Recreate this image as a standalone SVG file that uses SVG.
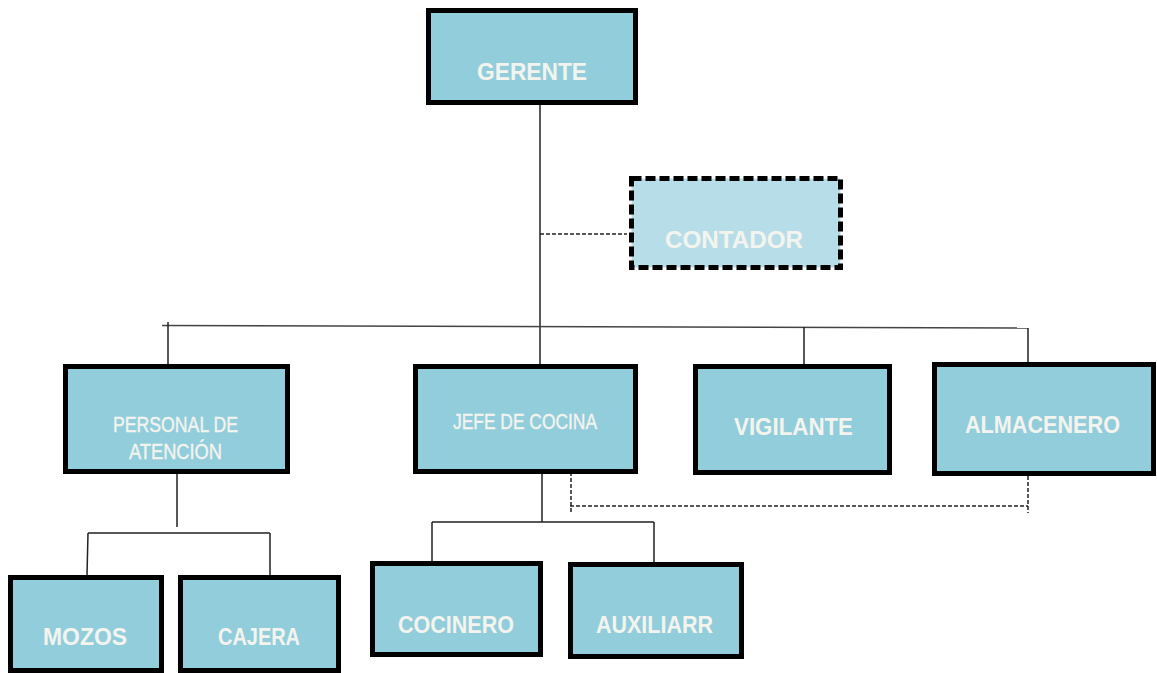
<svg xmlns="http://www.w3.org/2000/svg" width="1157" height="673" viewBox="0 0 1157 673">
<style>
.box{fill:#92CDDC;stroke:#000;stroke-width:5}
.dbox{fill:#B7DEE8;stroke:#000;stroke-width:5;stroke-dasharray:10 4}
.lb{font-family:"Liberation Sans",Arial,sans-serif;font-weight:bold;font-size:23px;fill:#F4F4EE;text-anchor:middle}
.ln{font-family:"Liberation Sans",Arial,sans-serif;font-size:22px;fill:#F4F4EE;stroke:#F4F4EE;stroke-width:0.4;text-anchor:middle}
.c{fill:none;stroke:#222;stroke-width:1.5}
.cd{fill:none;stroke:#222;stroke-width:1.5;stroke-dasharray:4 2}
</style>
<rect width="1157" height="673" fill="#fff"/>
<g id="connectors">
<path class="c" d="M540 97V377"/>
<path class="cd" d="M540 234H627"/>
<path class="c" style="stroke:#444" d="M162 325.5L1028 328"/>
<path class="c" d="M168 322V364M804 327V364M1028 328V362"/>
<path class="c" d="M177 474V527M88 533H270M88 533L87 575M270 533V575"/>
<path class="c" d="M542 460V522M432 522H654M432 522V561M654 522V562"/>
<path class="cd" d="M571 460V514M570 506H1028M1028 476V513"/>
</g>
<g id="gerente"><rect class="box" x="428.5" y="10.5" width="207" height="92"/><text class="lb" x="532" y="80" textLength="110" lengthAdjust="spacingAndGlyphs">GERENTE</text></g>
<g id="contador"><rect class="dbox" x="631.5" y="178.5" width="209" height="89"/><text class="lb" x="734" y="248" textLength="138" lengthAdjust="spacingAndGlyphs">CONTADOR</text></g>
<g id="personal"><rect class="box" x="65.5" y="366.5" width="222" height="105"/><text class="ln" x="175.5" y="432" textLength="125" lengthAdjust="spacingAndGlyphs">PERSONAL DE</text><text class="ln" x="175.5" y="459" textLength="93" lengthAdjust="spacingAndGlyphs">ATENCIÓN</text></g>
<g id="jefe"><rect class="box" x="415.5" y="366.5" width="220" height="105"/><text class="ln" x="525" y="429" textLength="144" lengthAdjust="spacingAndGlyphs">JEFE DE COCINA</text></g>
<g id="vigilante"><rect class="box" x="695.5" y="366.5" width="194" height="106"/><text class="lb" x="793.5" y="435" textLength="119" lengthAdjust="spacingAndGlyphs">VIGILANTE</text></g>
<g id="almacenero"><rect class="box" x="934.5" y="364.5" width="219" height="109"/><text class="lb" x="1042.5" y="433" textLength="155" lengthAdjust="spacingAndGlyphs">ALMACENERO</text></g>
<g id="mozos"><rect class="box" x="10.5" y="577.5" width="151" height="93"/><text class="lb" x="85" y="645" textLength="84" lengthAdjust="spacingAndGlyphs">MOZOS</text></g>
<g id="cajera"><rect class="box" x="180.5" y="577.5" width="158" height="93"/><text class="lb" x="259" y="645" textLength="82" lengthAdjust="spacingAndGlyphs">CAJERA</text></g>
<g id="cocinero"><rect class="box" x="372.5" y="563.5" width="168" height="91"/><text class="lb" x="456" y="633" textLength="116" lengthAdjust="spacingAndGlyphs">COCINERO</text></g>
<g id="auxiliarr"><rect class="box" x="570.5" y="564.5" width="171" height="92"/><text class="lb" x="654.5" y="633" textLength="117" lengthAdjust="spacingAndGlyphs">AUXILIARR</text></g>
</svg>
